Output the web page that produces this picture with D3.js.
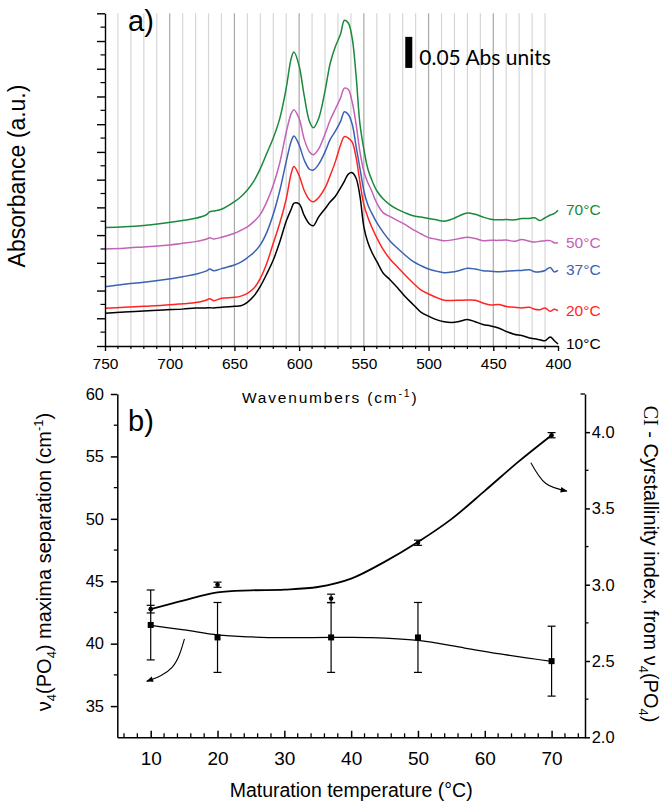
<!DOCTYPE html>
<html><head><meta charset="utf-8">
<script src="https://cdn.jsdelivr.net/npm/d3@7"></script>
<style>body{margin:0;background:#fff}svg{display:block}text{font-family:"Liberation Sans",Arial,sans-serif;fill:#000}</style>
</head><body><svg id="c" width="661" height="802"></svg>
<script>
// ---------- DATA: panel a (spectra, arbitrary absorbance units) ----------
const wavenumbers = [750,735,720,705,690,680,672,669,666,660,
  650,645,640,635,630,625,620,615,610,606,
  604,600,596,592,589,585,580,576,572,568,
  565,562,559,556,553,550,547,544,540,535,
  530,524,518,512,506,500,494,488,482,476,
  470,464,458,452,446,440,434,428,422,418,
  414,410,406,403,400];
const abs70 = [8.54,8.6,8.7,8.85,9.05,9.21,9.45,9.69,9.74,9.86,
  10.41,10.77,11.26,11.9,12.8,13.9,15.0,16.4,18.6,20.8,
  21.2,20.2,18.0,16.2,15.75,16.4,18.4,20.4,21.6,22.5,
  23.5,23.3,22.2,19.5,16.0,14.2,12.8,12.0,11.2,10.6,
  10.2,9.85,9.6,9.4,9.3,9.2,9.1,9.0,9.15,9.4,
  9.6,9.5,9.3,9.15,9.1,9.12,9.1,9.2,9.2,9.25,
  9.05,9.25,9.45,9.55,9.8];
const abs50 = [7.0,7.05,7.15,7.25,7.41,7.53,7.7,7.8,7.72,7.84,
  8.13,8.35,8.6,8.97,9.5,10.4,11.6,13.2,15.4,16.8,
  17.05,16.4,14.9,14.0,13.8,14.2,15.3,16.3,17.1,17.9,
  18.6,18.5,17.6,16.0,14.0,12.6,11.8,11.2,10.3,9.6,
  9.35,9.05,8.75,8.4,8.1,7.82,7.7,7.6,7.65,7.75,
  7.84,7.75,7.6,7.62,7.62,7.65,7.55,7.68,7.55,7.5,
  7.55,7.6,7.6,7.45,7.45];
const abs37 = [4.28,4.45,4.6,4.78,5.0,5.17,5.4,5.55,5.43,5.58,
  5.84,6.05,6.37,6.75,7.3,8.2,9.5,11.2,13.3,14.8,
  15.15,14.5,13.4,12.75,12.7,13.1,14.0,14.9,15.5,16.2,
  16.9,16.7,16.0,14.4,12.8,11.2,10.2,9.6,8.9,8.2,
  7.6,7.05,6.55,6.1,5.8,5.55,5.4,5.29,5.33,5.45,
  5.6,5.55,5.43,5.4,5.36,5.4,5.43,5.45,5.5,5.35,
  5.35,5.45,5.67,5.35,5.45];
const abs20 = [2.72,2.8,2.87,2.94,3.05,3.13,3.3,3.4,3.27,3.44,
  3.51,3.6,3.8,4.16,4.88,5.97,7.41,8.85,10.6,12.5,
  12.95,12.3,11.2,10.55,10.4,10.7,11.4,12.3,13.3,14.5,
  15.1,15.0,14.7,13.6,11.8,10.2,9.3,8.6,7.8,6.95,
  6.3,5.7,5.1,4.55,4.05,3.75,3.5,3.3,3.28,3.3,
  3.32,3.3,3.1,2.96,3.0,2.85,2.8,2.75,2.8,2.65,
  2.62,2.74,2.5,2.65,2.55];
const abs10 = [2.36,2.45,2.52,2.6,2.66,2.74,2.74,2.76,2.74,2.8,
  2.86,2.9,3.15,3.6,4.3,5.2,6.2,7.5,9.0,9.9,
  10.3,10.25,9.4,8.8,8.68,9.3,9.9,10.4,10.8,11.4,
  11.9,12.4,12.5,12.1,10.8,8.6,7.5,6.8,6.1,5.25,
  4.8,4.2,3.55,3.0,2.45,2.15,1.9,1.75,1.7,1.78,
  1.92,1.75,1.55,1.45,1.3,1.05,0.85,0.75,0.58,0.52,
  0.45,0.38,0.65,0.4,0.14];
const specLabels = ["10°C","20°C","37°C","50°C","70°C"];
const specColors = ["#000000","#ff2424","#3a62b3","#c462b6","#1a8a3c"];
const xTicksTop = [750,700,650,600,550,500,450,400];
const scaleBarAbs = "0.05 Abs units";
const scaleBarAU = 2.24; // 0.05 Abs expressed in plot units

// ---------- DATA: panel b ----------
const temps = [10,20,37,50,70];
const sepVals = [41.5,40.5,40.5,40.5,38.6];
const sepErr = [2.8,2.8,2.8,2.8,2.8];
const ciVals = [2.84,3.0,2.91,3.275,3.98];
const ciErr = [0.025,0.017,0.028,0.017,0.017];
const ciFitT = [10,15,20,25,30,35,40,45,50,55,60,65,70];
const ciFit = [2.84,2.898,2.950,2.963,2.968,2.985,3.04,3.15,3.28,3.43,3.615,3.805,3.98];
const sepFitT = [10,15,20,25,30,37,43,50,57,63,70];
const sepFit = [41.46,41.1,40.7,40.54,40.48,40.5,40.49,40.26,39.65,39.12,38.58];
const xTicksB = [10,20,30,40,50,60,70];
const yTicksL = [35,40,45,50,55,60];
const yTicksR = [2.0,2.5,3.0,3.5,4.0];

const svg = d3.select('#c');
const FF = '"Liberation Sans",Arial,sans-serif';

// ================= PANEL A =================
const xT = d3.scaleLinear().domain([750,400]).range([105,558]);
const yT = d3.scaleLinear().domain([0,24]).range([346,13.3]);
const gA = svg.append('g');
gA.selectAll('line.grid').data(d3.range(740,409,-10)).join('line')
  .attr('x1',d=>xT(d)).attr('x2',d=>xT(d)).attr('y1',yT(24)).attr('y2',yT(0))
  .attr('stroke',d=>d%50===0?'#a8a8a8':'#d6d6d6').attr('stroke-width',1.2);

const lineA = d3.line().x((d,i)=>xT(wavenumbers[i])).y(d=>yT(d)).curve(d3.curveCatmullRom.alpha(0.5));
const seriesA = [abs10,abs20,abs37,abs50,abs70];
seriesA.forEach((s,k)=>{
  gA.append('path').datum(s).attr('d',lineA).attr('fill','none')
    .attr('stroke',specColors[k]).attr('stroke-width',1.5).attr('stroke-linejoin','round');
  gA.append('text').attr('x',xT(400)+8).attr('y',yT(s[s.length-1])+5)
    .style('font-size','15.5px').style('fill',specColors[k]).text(specLabels[k]);
});

// x axis (top panel)
const gxA = gA.append('g').attr('transform',`translate(0,${yT(0)})`)
  .call(d3.axisBottom(xT).tickValues(xTicksTop).tickSize(5).tickSizeOuter(0));
gxA.attr('font-family',FF).attr('font-size',15.5);
gxA.selectAll('text').attr('y',23.3).attr('dy',0);
gxA.selectAll('line,path').attr('stroke-width',1.4);
gxA.selectAll('line.mn').data(d3.range(740,400,-10).filter(d=>d%50)).join('line')
  .attr('x1',d=>xT(d)).attr('x2',d=>xT(d)).attr('y1',0).attr('y2',3).attr('stroke','#000').attr('stroke-width',1.2);

// y axis (top panel)
const gyA = gA.append('g').attr('transform',`translate(${xT(750)},0)`)
  .call(d3.axisLeft(yT).tickValues(d3.range(0,25,2)).tickSize(8).tickSizeOuter(0).tickFormat(''));
gyA.selectAll('line,path').attr('stroke-width',1.4);
gyA.selectAll('line.mn').data(d3.range(1,24,2)).join('line')
  .attr('x1',0).attr('x2',-4.5).attr('y1',d=>yT(d)).attr('y2',d=>yT(d)).attr('stroke','#000').attr('stroke-width',1.2);

svg.append('text').attr('transform',`translate(25,176) rotate(-90)`).attr('text-anchor','middle')
  .style('font-size','23px').text('Absorbance (a.u.)');
svg.append('text').attr('x',128).attr('y',31).style('font-size','29px').text('a)');

// scale bar
gA.append('rect').attr('x',xT(518)).attr('width',7)
  .attr('y',yT(20.06+scaleBarAU)).attr('height',yT(20.06)-yT(20.06+scaleBarAU)).attr('fill','#000');
gA.append('text').attr('x',xT(518)+14).attr('y',65).style('font-family','Lato,"Open Sans",sans-serif')
  .style('font-size','21px').text(scaleBarAbs);

const wl = svg.append('text').attr('x',242).attr('y',403.3).style('font-size','15.5px').style('letter-spacing','1.8px');
wl.append('tspan').text('Wavenumbers (cm');
wl.append('tspan').attr('dy',-6).style('font-size','10.5px').text('-1');
wl.append('tspan').attr('dy',6).text(')');

// ================= PANEL B =================
const xB = d3.scaleLinear().domain([5,75]).range([117.3,585]);
const yL = d3.scaleLinear().domain([32.5,60]).range([737.3,394]);
const yR = d3.scaleLinear().domain([2,4.25]).range([737.3,394]);
const gB = svg.append('g');

// bottom axis, ticks inward
const gxB = gB.append('g').attr('transform',`translate(0,${yL(32.5)})`)
  .call(d3.axisBottom(xB).tickValues(xTicksB).tickSize(-6.5).tickSizeOuter(0));
gxB.attr('font-family',FF).attr('font-size',19);
gxB.selectAll('text').attr('y',27.7).attr('dy',0);
gxB.selectAll('line,path').attr('stroke-width',1.5);
gxB.selectAll('line.mn').data(d3.range(6,75,2).filter(d=>d%10)).join('line')
  .attr('x1',d=>xB(d)).attr('x2',d=>xB(d)).attr('y1',0).attr('y2',-4).attr('stroke','#000').attr('stroke-width',1.3);

// left axis
const gyL = gB.append('g').attr('transform',`translate(${xB(5)},0)`)
  .call(d3.axisLeft(yL).tickValues(yTicksL).tickSize(6.5).tickSizeOuter(0));
gyL.attr('font-family',FF).attr('font-size',16.5);
gyL.selectAll('text').attr('x',-13.3);
gyL.selectAll('line,path').attr('stroke-width',1.5);
gyL.selectAll('line.mn').data([37.5,42.5,47.5,52.5,57.5]).join('line')
  .attr('x1',0).attr('x2',-3.5).attr('y1',d=>yL(d)).attr('y2',d=>yL(d)).attr('stroke','#000').attr('stroke-width',1.3);

// right axis
const gyR = gB.append('g').attr('transform',`translate(${xB(75)},0)`)
  .call(d3.axisRight(yR).tickValues(yTicksR).tickSize(5).tickSizeOuter(0).tickFormat(d3.format('.1f')));
gyR.attr('font-family',FF).attr('font-size',16.5);
gyR.selectAll('text').attr('x',6.7);
gyR.selectAll('line,path').attr('stroke-width',1.5);
gyR.selectAll('line.mn').data([2.25,2.75,3.25,3.75]).join('line')
  .attr('x1',0).attr('x2',3.5).attr('y1',d=>yR(d)).attr('y2',d=>yR(d)).attr('stroke','#000').attr('stroke-width',1.3);
gyR.append('line').attr('x1',0).attr('x2',-4.5).attr('y1',yR(4.25)).attr('y2',yR(4.25)).attr('stroke','#000').attr('stroke-width',1.3);

// fits
const fitLine = (ys)=>d3.line().x(d=>xB(d[0])).y(d=>ys(d[1])).curve(d3.curveCatmullRom.alpha(0.5));
gB.append('path').datum(ciFitT.map((t,i)=>[t,ciFit[i]])).attr('d',fitLine(yR))
  .attr('fill','none').attr('stroke','#000').attr('stroke-width',1.8);
gB.append('path').datum(sepFitT.map((t,i)=>[t,sepFit[i]])).attr('d',fitLine(yL))
  .attr('fill','none').attr('stroke','#000').attr('stroke-width',1.3);

// error bars + markers
function errBars(vals, errs, ys, cap){
  const g = gB.append('g').attr('stroke','#000').attr('stroke-width',1.2);
  temps.forEach((t,i)=>{
    const x = xB(t), y1 = ys(vals[i]-errs[i]), y2 = ys(vals[i]+errs[i]);
    g.append('line').attr('x1',x).attr('x2',x).attr('y1',y1).attr('y2',y2);
    g.append('line').attr('x1',x-cap).attr('x2',x+cap).attr('y1',y1).attr('y2',y1);
    g.append('line').attr('x1',x-cap).attr('x2',x+cap).attr('y1',y2).attr('y2',y2);
  });
}
errBars(sepVals, sepErr, yL, 4);
errBars(ciVals, ciErr, yR, 4);
gB.selectAll('rect.sq').data(temps).join('rect')
  .attr('x',(d)=>xB(d)-3).attr('y',(d,i)=>yL(sepVals[i])-3).attr('width',6).attr('height',6).attr('fill','#000');
gB.selectAll('circle.ci').data(temps).join('circle')
  .attr('cx',d=>xB(d)).attr('cy',(d,i)=>yR(ciVals[i])).attr('r',2.3).attr('fill','#000');

// arrows (annotation, data coordinates)
const defs = svg.append('defs');
defs.append('marker').attr('id','ah').attr('viewBox','0 0 10 10').attr('refX',9).attr('refY',5)
  .attr('markerWidth',9).attr('markerHeight',7).attr('markerUnits','userSpaceOnUse').attr('orient','auto')
  .append('path').attr('d','M0,1 L10,5 L0,9 Z').attr('fill','#000');
const arrowCI = [[66.9,3.80],[69.1,3.665],[72.3,3.614]];
const arrowSep = [[15.05,40.38],[13.2,38.1],[9.41,36.98]];
gB.append('path').datum(arrowCI).attr('d',d3.line().x(d=>xB(d[0])).y(d=>yR(d[1])).curve(d3.curveNatural))
  .attr('fill','none').attr('stroke','#000').attr('stroke-width',1.1).attr('marker-end','url(#ah)');
gB.append('path').datum(arrowSep).attr('d',d3.line().x(d=>xB(d[0])).y(d=>yL(d[1])).curve(d3.curveNatural))
  .attr('fill','none').attr('stroke','#000').attr('stroke-width',1.1).attr('marker-end','url(#ah)');

// texts
svg.append('text').attr('x',128).attr('y',431).style('font-size','29px').text('b)');
svg.append('text').attr('x',xB(40)).attr('y',797).attr('text-anchor','middle').style('font-size','19.5px')
  .text('Maturation temperature (°C)');
const ll = svg.append('text').attr('transform','translate(51,562) rotate(-90)').attr('text-anchor','middle').style('font-size','20px');
ll.append('tspan').text('ν');
ll.append('tspan').attr('dy',5).style('font-size','13px').text('4');
ll.append('tspan').attr('dy',-5).text('(PO');
ll.append('tspan').attr('dy',5).style('font-size','13px').text('4');
ll.append('tspan').attr('dy',-5).text(') maxima separation (cm');
ll.append('tspan').attr('dy',-8).style('font-size','13px').text('-1');
ll.append('tspan').attr('dy',8).text(')');
const rl = svg.append('text').attr('transform','translate(644,564) rotate(90)').attr('text-anchor','middle').style('font-size','20px');
rl.append('tspan').style('font-family','"Liberation Serif","Times New Roman",serif').text('CI');
rl.append('tspan').text(' - Cyrstallinity index, from ν');
rl.append('tspan').attr('dy',5).style('font-size','13px').text('4');
rl.append('tspan').attr('dy',-5).text('(PO');
rl.append('tspan').attr('dy',5).style('font-size','13px').text('4');
rl.append('tspan').attr('dy',-5).text(')');
</script></body></html>
